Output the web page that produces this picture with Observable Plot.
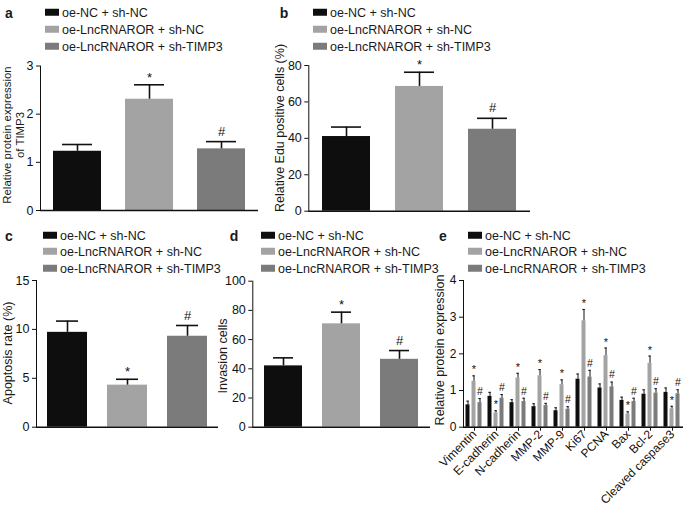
<!DOCTYPE html>
<html><head><meta charset="utf-8">
<script src="https://cdn.jsdelivr.net/npm/d3@7"></script>
<script src="https://cdn.jsdelivr.net/npm/@observablehq/plot@0.6"></script>
<style>
body{margin:0;background:#fff;font-family:"Liberation Sans",Arial,sans-serif;color:#1a1a1a;}
#root{position:relative;width:685px;height:509px;overflow:hidden;background:#fff;}
#root svg{position:absolute;overflow:visible;}
.lg{position:absolute;font-size:12.5px;white-space:nowrap;line-height:1;transform:translateY(-50%);}
.sw{display:inline-block;width:14px;height:7px;margin-right:3px;vertical-align:middle;position:relative;top:-1px;}
.pl{position:absolute;font-weight:bold;font-size:14px;transform:translate(-50%,-50%);line-height:1;}
.yl{position:absolute;font-size:12.5px;white-space:nowrap;line-height:1;transform:translate(-50%,-50%) rotate(-90deg);}
</style></head><body><div id="root"></div><script>
// ---------- data ----------
const groups = ["oe-NC + sh-NC", "oe-LncRNAROR + sh-NC", "oe-LncRNAROR + sh-TIMP3"];
const groupColors = ["#0e0e0e", "#a3a3a3", "#7b7b7b"];
const groupMarks = ["", "*", "#"];

const timp3Mean = [1.23, 2.31, 1.28];
const timp3Err  = [0.14, 0.30, 0.15];

const eduMean = [41, 68.5, 45];
const eduErr  = [5.2, 7.8, 6.0];

const apopMean = [9.7, 4.3, 9.3];
const apopErr  = [1.15, 0.6, 1.1];

const invMean = [42, 70.8, 46.5];
const invErr  = [5.5, 8.0, 6.0];

const proteins = ["Vimentin", "E-cadherin", "N-cadherin", "MMP-2", "MMP-9", "Ki67", "PCNA", "Bax", "Bcl-2", "Cleaved caspase3"];
const ctrlMean = [0.61, 0.84, 0.67, 0.56, 0.45, 1.31, 1.07, 0.73, 0.90, 0.95];
const ctrlErr  = [0.10, 0.11, 0.08, 0.08, 0.08, 0.14, 0.11, 0.09, 0.12, 0.12];
const lncMean  = [1.25, 0.39, 1.34, 1.40, 1.16, 2.90, 1.95, 0.36, 1.74, 0.50];
const lncErr   = [0.15, 0.06, 0.13, 0.17, 0.13, 0.31, 0.21, 0.06, 0.20, 0.07];
const shMean   = [0.67, 0.79, 0.70, 0.59, 0.49, 1.37, 1.10, 0.70, 0.93, 0.91];
const shErr    = [0.11, 0.10, 0.09, 0.06, 0.07, 0.18, 0.13, 0.09, 0.12, 0.11];

const tickA = [0, 1, 2, 3];
const tickB = [0, 20, 40, 60, 80];
const tickC = [0, 5, 10, 15];
const tickD = [0, 20, 40, 60, 80, 100];
const tickE = [0, 1, 2, 3, 4];

// ---------- helpers ----------
const root = document.getElementById("root");
const FONT = "Liberation Sans, Arial, sans-serif";
const fmt = d => String(d);

function place(el, left, top) { el.style.left = left + "px"; el.style.top = top + "px"; root.appendChild(el); }

function legend(x, ys) {
  groups.forEach((g, i) => {
    const d = document.createElement("div");
    d.className = "lg";
    d.innerHTML = `<span class="sw" style="background:${groupColors[i]}"></span>${g}`;
    place(d, x, ys[i]);
  });
}
function letter(t, x, y) { const d = document.createElement("div"); d.className = "pl"; d.textContent = t; place(d, x, y); }
function ylabel(t, x, y, fs) { const d = document.createElement("div"); d.className = "yl"; d.textContent = t; if (fs) d.style.fontSize = fs + "px"; place(d, x, y); }

function barPanel(o) {
  const data = groups.map((g, i) => ({g, v: o.mean[i], e: o.err[i], m: o.marks[i]}));
  const svg = Plot.plot({
    width: o.width, height: o.height,
    marginLeft: o.ml, marginTop: o.mt, marginBottom: o.mb, marginRight: o.mr,
    style: {fontFamily: FONT, fontSize: "12.5px", color: "#111", background: "transparent"},
    x: {domain: groups, axis: null, paddingInner: o.pi, paddingOuter: o.po},
    y: {domain: o.yDomain, ticks: o.ticks, tickFormat: fmt, tickSize: 4, tickPadding: 3, line: true, label: null},
    color: {domain: groups, range: groupColors},
    marks: [
      Plot.barY(data, {x: "g", y: "v", fill: "g"}),
      Plot.ruleX(data, {x: "g", y1: "v", y2: d => d.v + d.e, stroke: "#111", strokeWidth: 1.6}),
      Plot.tickY(data, {x: "g", y: d => d.v + d.e, stroke: "#111", strokeWidth: 1.6, insetLeft: o.capInset, insetRight: o.capInset}),
      Plot.text(data.filter(d => d.m === "*"), {x: "g", y: d => d.v + d.e, text: "m", dy: -7, fontSize: 13, fill: "#111"}),
      Plot.text(data.filter(d => d.m === "#"), {x: "g", y: d => d.v + d.e, text: "m", dy: -10, fontSize: 13, fill: "#111"}),
      Plot.ruleY([0], {stroke: "#111", strokeWidth: 1.6})
    ]
  });
  place(svg, o.left, o.top);
}

// ---------- panel a ----------
letter("a", 9, 13);
legend(45, [12.5, 29.5, 46.5]);
barPanel({mean: timp3Mean, err: timp3Err, marks: groupMarks, yDomain: [0, 3], ticks: tickA,
  left: 0, top: 55, width: 262, height: 170, ml: 40, mt: 10.5, mb: 15, mr: 4, pi: 0.338, po: 0.175, capInset: 9});
ylabel("Relative protein expression", 8, 135, 11.4);
ylabel("of TIMP3", 21, 135, 11.4);

// ---------- panel b ----------
letter("b", 284, 13);
legend(313, [12.5, 29.5, 46.5]);
barPanel({mean: eduMean, err: eduErr, marks: groupMarks, yDomain: [0, 80], ticks: tickB,
  left: 268, top: 55, width: 266, height: 170, ml: 40.3, mt: 10, mb: 14.3, mr: 4, pi: 0.34, po: 0.183, capInset: 9});
ylabel("Relative Edu positive cells (%)", 280, 128);

// ---------- panel c ----------
letter("c", 9, 236);
legend(43, [235.5, 252, 269]);
barPanel({mean: apopMean, err: apopErr, marks: groupMarks, yDomain: [0, 15], ticks: tickC,
  left: 0, top: 270, width: 222, height: 170, ml: 36, mt: 10, mb: 13.3, mr: 4, pi: 0.333, po: 0.178, capInset: 9});
ylabel("Apoptosis rate (%)", 8, 353);

// ---------- panel d ----------
letter("d", 234, 236);
legend(261, [235.5, 252, 269]);
barPanel({mean: invMean, err: invErr, marks: groupMarks, yDomain: [0, 100], ticks: tickD,
  left: 222, top: 270, width: 212, height: 170, ml: 30.3, mt: 10.7, mb: 13.3, mr: 4, pi: 0.339, po: 0.176, capInset: 9});
ylabel("Invasion cells", 223, 356);

// ---------- panel e ----------
letter("e", 443, 236);
legend(468, [235.5, 252, 269]);
{
  const series = [
    {mean: ctrlMean, err: ctrlErr, mark: ""},
    {mean: lncMean, err: lncErr, mark: "*"},
    {mean: shMean, err: shErr, mark: "#"}
  ];
  const data = [];
  proteins.forEach((p, j) => series.forEach((s, i) => data.push({p, g: groups[i], v: s.mean[j], e: s.err[j], m: s.mark})));
  const svg = Plot.plot({
    width: 265, height: 239,
    marginLeft: 42.5, marginTop: 10, marginBottom: 82.3, marginRight: 1,
    style: {fontFamily: FONT, fontSize: "12px", color: "#111", background: "transparent"},
    fx: {domain: proteins, paddingInner: 0, paddingOuter: 0, tickRotate: -45, tickSize: 4, tickPadding: 1, label: null, axis: "bottom"},
    x: {domain: groups, axis: null, paddingInner: 0.32, paddingOuter: 0.42},
    y: {domain: [0, 4], ticks: tickE, tickFormat: fmt, tickSize: 4, tickPadding: 3, line: true, label: null},
    color: {domain: groups, range: groupColors},
    marks: [
      Plot.barY(data, {fx: "p", x: "g", y: "v", fill: "g"}),
      Plot.ruleX(data, {fx: "p", x: "g", y1: "v", y2: d => d.v + d.e, stroke: "#111", strokeWidth: 1}),
      Plot.tickY(data, {fx: "p", x: "g", y: d => d.v + d.e, stroke: "#111", strokeWidth: 1, insetLeft: 0.8, insetRight: 0.8}),
      Plot.text(data.filter(d => d.m === "*"), {fx: "p", x: "g", y: d => d.v + d.e, text: "m", dy: -6, fontSize: 11, fill: "#111"}),
      Plot.text(data.filter(d => d.m === "#"), {fx: "p", x: "g", y: d => d.v + d.e, text: "m", dy: -7, fontSize: 10.5, fill: "#111"}),
      Plot.ruleY([0], {stroke: "#111", strokeWidth: 1.6})
    ]
  });
  place(svg, 420, 270);
}
ylabel("Relative protein expression", 440, 350);
</script></body></html>
